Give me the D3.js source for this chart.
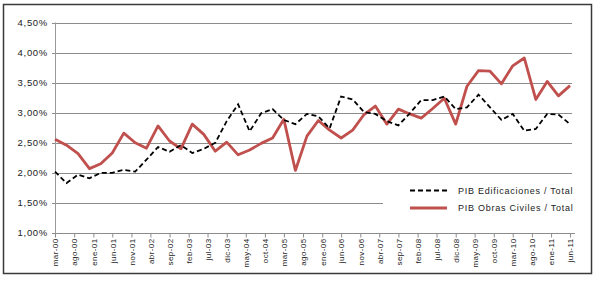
<!DOCTYPE html>
<html><head><meta charset="utf-8">
<script src="https://cdn.jsdelivr.net/npm/d3@7"></script>
<style>html,body{margin:0;padding:0;background:#fff;}svg{display:block;}</style>
</head><body>
<svg id="c" width="598" height="281"></svg>
<script>
const categories = ["mar-00","jun-00","sep-00","dic-00","mar-01","jun-01","sep-01","dic-01","mar-02","jun-02","sep-02","dic-02","mar-03","jun-03","sep-03","dic-03","mar-04","jun-04","sep-04","dic-04","mar-05","jun-05","sep-05","dic-05","mar-06","jun-06","sep-06","dic-06","mar-07","jun-07","sep-07","dic-07","mar-08","jun-08","sep-08","dic-08","mar-09","jun-09","sep-09","dic-09","mar-10","jun-10","sep-10","dic-10","mar-11","jun-11"];
const edificaciones = [2.02,1.83,1.97,1.91,2.00,2.00,2.05,2.02,2.22,2.43,2.35,2.46,2.33,2.40,2.50,2.86,3.14,2.69,2.99,3.06,2.88,2.81,2.98,2.94,2.74,3.27,3.22,3.01,2.98,2.86,2.79,2.99,3.21,3.21,3.27,3.06,3.09,3.30,3.09,2.88,2.98,2.70,2.73,2.98,2.97,2.81];
const obrasCiviles = [2.56,2.46,2.32,2.07,2.15,2.33,2.66,2.50,2.41,2.78,2.53,2.40,2.81,2.64,2.36,2.51,2.30,2.38,2.49,2.58,2.89,2.04,2.61,2.87,2.71,2.58,2.71,2.97,3.11,2.81,3.06,2.98,2.91,3.07,3.24,2.81,3.44,3.70,3.69,3.48,3.78,3.91,3.22,3.52,3.28,3.45];
const tickLabels = ["mar-00","ago-00","ene-01","jun-01","nov-01","abr-02","sep-02","feb-03","jul-03","dic-03","may-04","oct-04","mar-05","ago-05","ene-06","jun-06","nov-06","abr-07","sep-07","feb-08","jul-08","dic-08","may-09","oct-09","mar-10","ago-10","ene-11","jun-11"];
const yTicks = [1.0,1.5,2.0,2.5,3.0,3.5,4.0,4.5];
const seriesNames = ["PIB Edificaciones / Total","PIB Obras Civiles / Total"];

const months = {ene:0,feb:1,mar:2,abr:3,may:4,jun:5,jul:6,ago:7,sep:8,oct:9,nov:10,dic:11};
const parse = s => { const [m,y] = s.split("-"); return new Date(2000 + (+y), months[m], 1); };

const svg = d3.select("#c");
const font = "'Liberation Sans', Arial, sans-serif";

// outer border
svg.append("rect").attr("x",3.5).attr("y",4.5).attr("width",588).attr("height",269)
  .attr("fill","#fff").attr("stroke","#3a3a3a").attr("stroke-width",1.5);

const x = d3.scaleTime().domain([parse(categories[0]), parse(categories[categories.length-1])]).range([55, 570]);
const y = d3.scaleLinear().domain([1, 4.5]).range([233, 22.5]);

// gridlines
svg.append("g").selectAll("line").data(yTicks.filter(d => d > 1)).join("line")
  .attr("x1",52).attr("x2",572).attr("y1",d=>Math.round(y(d))+0.5).attr("y2",d=>Math.round(y(d))+0.5)
  .attr("stroke","#8c8c8c").attr("stroke-width",1);

// y axis labels
const fmt = d => d.toFixed(2).replace(".", ",") + "%";
svg.append("g").selectAll("text").data(yTicks).join("text")
  .attr("x",48).attr("y",d=>y(d)).attr("dy","0.35em").attr("text-anchor","end")
  .attr("font-family",font).attr("font-size","9.5px").attr("letter-spacing","0.7px").attr("fill","#222")
  .text(fmt);

// y axis line
svg.append("line").attr("x1",55.5).attr("x2",55.5).attr("y1",y(4.5)).attr("y2",y(1)).attr("stroke","#9a9a9a");

// x axis
const tickDates = tickLabels.map(parse);
const xAxis = d3.axisBottom(x).tickValues(tickDates).tickSize(4).tickSizeOuter(0).tickFormat((d,i)=>tickLabels[i]);
const gx = svg.append("g").attr("transform",`translate(0,${Math.round(y(1))+0.5})`).call(xAxis);
gx.select(".domain").attr("stroke","#8c8c8c").attr("d","M52,0H575");
gx.selectAll(".tick line").attr("stroke","#8c8c8c");
gx.selectAll(".tick text")
  .attr("font-family",font).attr("font-size","8px").attr("letter-spacing","0.4px").attr("fill","#222")
  .attr("transform","rotate(-90)").attr("text-anchor","end").attr("x",-5).attr("y",0).attr("dy","0.35em");

// legend background (covers part of a gridline)
svg.append("rect").attr("x",383).attr("y",180).attr("width",200).attr("height",40).attr("fill","#fff");

// lines
const line = vals => d3.line().x((d,i)=>x(parse(categories[i]))).y(d=>y(d))(vals);
svg.append("path").attr("d",line(obrasCiviles)).attr("fill","none").attr("stroke","#c0504d")
  .attr("stroke-width",2.8).attr("stroke-linejoin","round");
svg.append("path").attr("d",line(edificaciones)).attr("fill","none").attr("stroke","#000")
  .attr("stroke-width",1.8).attr("stroke-dasharray","5,3");

// legend
const leg = svg.append("g");
const legY = [190.5, 208];
leg.append("line").attr("x1",410).attr("x2",447).attr("y1",legY[0]).attr("y2",legY[0])
  .attr("stroke","#000").attr("stroke-width",2).attr("stroke-dasharray","5,3");
leg.append("line").attr("x1",410).attr("x2",447).attr("y1",legY[1]).attr("y2",legY[1])
  .attr("stroke","#c0504d").attr("stroke-width",3);
leg.selectAll("text").data(seriesNames).join("text")
  .attr("x",458).attr("y",(d,i)=>legY[i]).attr("dy","0.35em")
  .attr("font-family",font).attr("font-size","9px").attr("letter-spacing","0.75px").attr("fill","#222")
  .text(d=>d);
</script>
</body></html>
